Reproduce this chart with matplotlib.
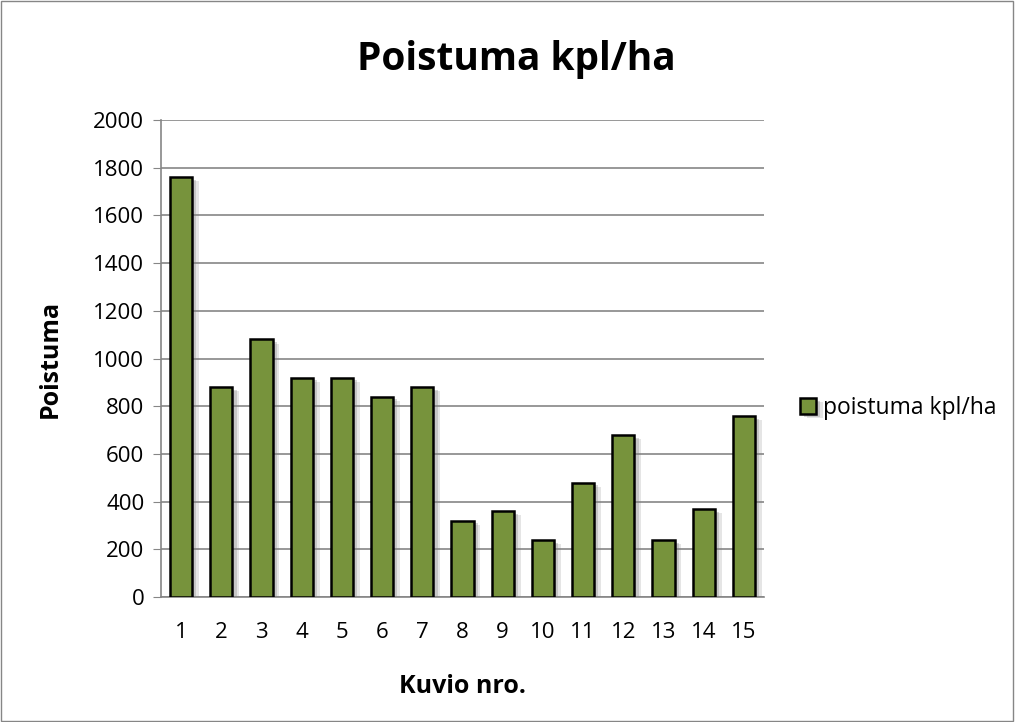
import matplotlib.pyplot as plt
import matplotlib.patheffects as pe
from matplotlib.patches import Rectangle

kuviot = list(range(1, 16))
poistuma = [1760, 880, 1080, 920, 920, 840, 880, 320, 360, 240, 480, 680, 240, 370, 760]

plt.rcParams['font.family'] = ['Open Sans', 'DejaVu Sans']

fig = plt.figure(figsize=(10.15, 7.22), dpi=100)
ax = fig.add_axes([0.1586, 0.1731, 0.5941, 0.6607])

bars = ax.bar(kuviot, poistuma, width=0.55, color='#77933C', edgecolor='black',
              linewidth=1.8, zorder=3, label='poistuma kpl/ha')
for b in bars:
    b.set_path_effects([pe.SimplePatchShadow(offset=(5, -3), shadow_rgbFace='gray', alpha=0.2),
                        pe.SimplePatchShadow(offset=(3, -2), shadow_rgbFace='gray', alpha=0.3),
                        pe.Normal()])

ax.set_xlim(0.5, 15.5)
ax.set_ylim(0, 2000)
ax.set_yticks(range(0, 2001, 200))
ax.set_xticks(kuviot)
ax.grid(axis='y', color='#868686', linewidth=1.2, zorder=0)
ax.set_axisbelow(True)
for s in ['top', 'right']:
    ax.spines[s].set_visible(False)
ax.spines['left'].set_color('#868686')
ax.spines['bottom'].set_color('#868686')
ax.spines['left'].set_linewidth(1.2)
ax.spines['bottom'].set_linewidth(1.2)
ax.tick_params(axis='y', length=6, color='#868686', labelsize=16, pad=6)
ax.tick_params(axis='x', length=0, labelsize=16, pad=18)

fig.text(0.509, 0.917, 'Poistuma kpl/ha', fontsize=28, fontweight='bold',
         ha='center', va='center')
ax.set_ylabel('Poistuma', fontsize=18, fontweight='bold', va='center')
ax.yaxis.set_label_coords(-0.184, 0.5)
ax.set_xlabel('Kuvio nro.', fontsize=18, fontweight='bold', va='center')
ax.xaxis.set_label_coords(0.5, -0.187)

leg = ax.legend(loc='center left', bbox_to_anchor=(1.06, 0.396), frameon=False,
                fontsize=16.5, handlelength=0.7, handleheight=0.7, handletextpad=0.3,
                borderaxespad=0, borderpad=0)

fig.patches.append(Rectangle((0.001, 0.002), 0.997, 0.996, transform=fig.transFigure,
                             fill=False, edgecolor='#868686', linewidth=1))

fig.savefig('out.png', dpi=100)
